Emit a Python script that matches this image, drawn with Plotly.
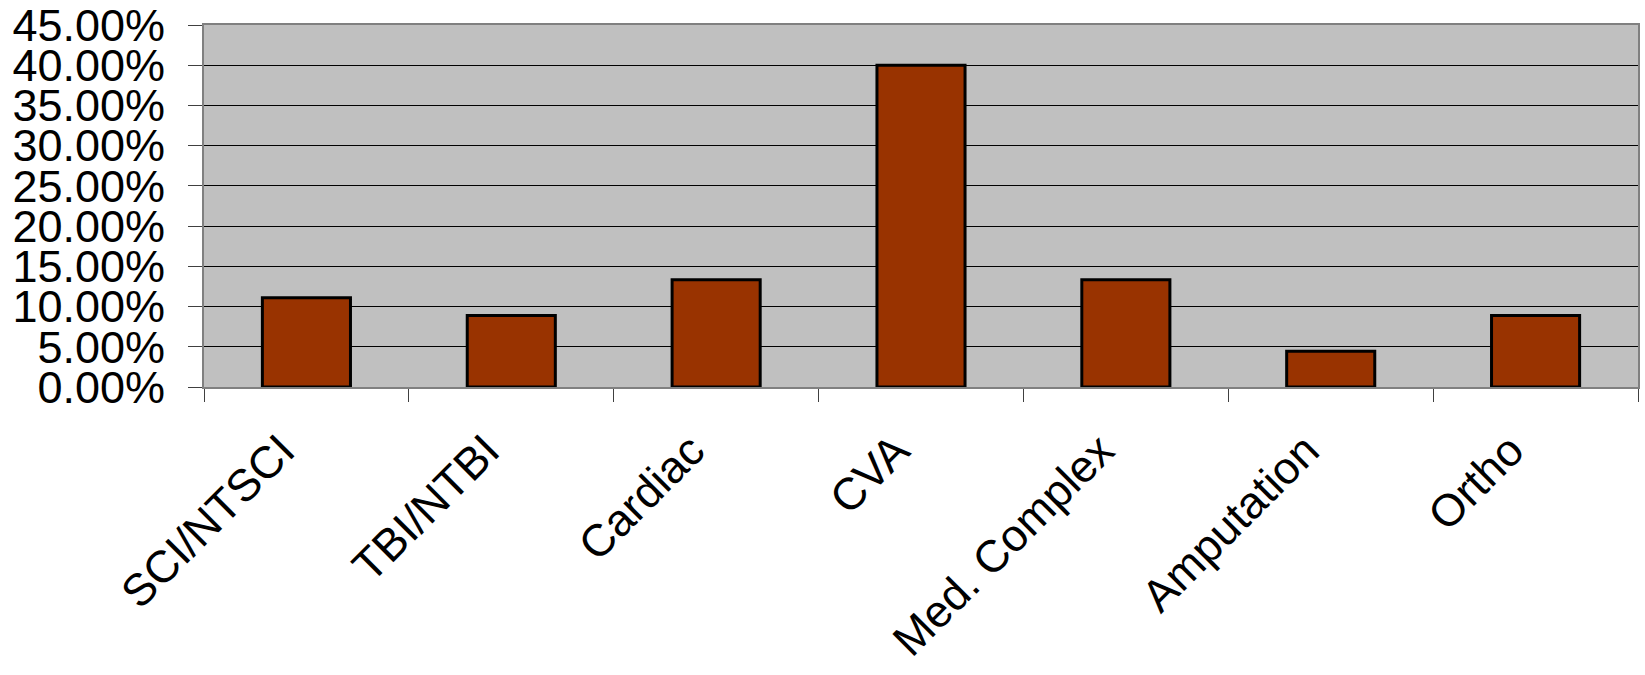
import plotly.graph_objects as go

categories = ["SCI/NTSCI", "TBI/NTBI", "Cardiac", "CVA", "Med. Complex", "Amputation", "Ortho"]
values = [11.11, 8.89, 13.33, 40.00, 13.33, 4.44, 8.89]
y_ticks = [0, 5, 10, 15, 20, 25, 30, 35, 40, 45]

fig = go.Figure(go.Bar(
    x=categories, y=values,
    marker=dict(color="#993300", line=dict(color="#000000", width=3)),
))

fig.update_layout(
    width=1645, height=675,
    margin=dict(l=204, r=7, t=25, b=288),
    paper_bgcolor="white", plot_bgcolor="#C0C0C0",
    bargap=0.57, showlegend=False,
    font=dict(family="Liberation Sans, Arial, sans-serif", size=45, color="black"),
)
fig.update_xaxes(
    type="category", tickangle=-45, tickson="boundaries",
    ticks="outside", ticklen=13, tickcolor="#404040", tickwidth=1,
    showline=True, linecolor="#808080", linewidth=2, mirror=True,
    showgrid=False, ticklabelstandoff=17, ticklabelshift=-25,
    automargin=False, ticklabeloverflow="allow",
    tickfont=dict(size=45),
)
fig.update_yaxes(
    range=[0, 45], tickvals=y_ticks, ticktext=[f"{v:.2f}%" for v in y_ticks],
    ticks="outside", ticklen=14, tickcolor="#404040", tickwidth=1,
    showline=True, linecolor="#808080", linewidth=2, mirror=True,
    showgrid=True, gridcolor="#000000", gridwidth=1,
    zeroline=False, ticklabelstandoff=14, automargin=False,
    ticklabeloverflow="allow",
    tickfont=dict(size=45),
)

fig.write_html("out.html")
